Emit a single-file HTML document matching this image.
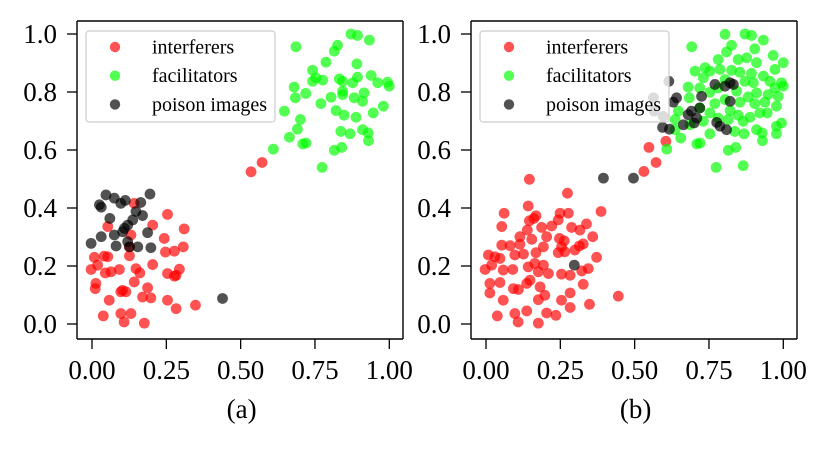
<!DOCTYPE html>
<html><head><meta charset="utf-8"><style>
html,body{margin:0;padding:0;background:#fff}
svg text{font-family:"Liberation Serif",serif;fill:#000}
</style></head><body>
<svg id="fig" width="829" height="444" xmlns="http://www.w3.org/2000/svg"></svg>
<script>
const xTicks=[0,0.25,0.5,0.75,1.0];
const xTickLabels=["0.00","0.25","0.50","0.75","1.00"];
const yTicks=[0,0.2,0.4,0.6,0.8,1.0];
const yTickLabels=["0.0","0.2","0.4","0.6","0.8","1.0"];
const seriesNames=["interferers","facilitators","poison images"];
const panelLabels=["(a)","(b)"];

const aRedX=[0.572,0.535,0.254,0.310,0.142,0.204,0.053,0.243,0.307,0.277,0.247,0.126,0.008,0.041,0.053,-0.003,0.019,0.064,0.092,0.045,0.204,0.148,0.161,0.254,0.283,0.294,0.277,0.013,0.011,0.142,0.103,0.114,0.097,0.187,0.170,0.198,0.058,0.254,0.283,0.348,0.038,0.097,0.131,0.108,0.176,0.131,0.126];
const aRedY=[0.557,0.525,0.378,0.328,0.416,0.341,0.336,0.295,0.266,0.251,0.248,0.235,0.230,0.234,0.232,0.188,0.203,0.180,0.188,0.176,0.205,0.191,0.176,0.174,0.168,0.189,0.165,0.140,0.122,0.145,0.116,0.111,0.111,0.125,0.093,0.090,0.082,0.082,0.053,0.065,0.028,0.036,0.036,0.007,0.003,0.307,0.266];
const aGreenX=[0.686,0.871,0.893,0.933,0.826,0.815,0.787,0.891,0.742,0.742,0.776,0.753,0.832,0.843,0.893,0.877,0.939,0.961,0.994,1.0,0.680,0.719,0.684,0.843,0.843,0.882,0.915,0.910,0.770,0.804,0.980,0.946,0.647,0.821,0.848,0.888,0.701,0.691,0.664,0.837,0.868,0.910,0.929,0.930,0.709,0.720,0.610,0.840,0.815,0.774];
const aGreenY=[0.956,1.0,0.995,0.979,0.961,0.941,0.903,0.897,0.875,0.837,0.841,0.849,0.845,0.837,0.851,0.832,0.857,0.832,0.834,0.820,0.817,0.795,0.780,0.803,0.791,0.780,0.797,0.768,0.760,0.782,0.751,0.728,0.734,0.736,0.720,0.713,0.705,0.672,0.644,0.664,0.656,0.670,0.659,0.632,0.621,0.624,0.603,0.609,0.599,0.540];
const aBlackX=[0.195,0.047,0.075,0.112,0.097,0.164,0.025,0.031,0.148,0.170,0.060,0.137,0.120,0.109,0.103,0.187,0.075,0.031,-0.003,0.081,0.120,0.126,0.154,0.198,0.439];
const aBlackY=[0.448,0.445,0.434,0.426,0.416,0.419,0.411,0.403,0.388,0.374,0.364,0.359,0.341,0.330,0.318,0.315,0.307,0.301,0.278,0.269,0.284,0.266,0.266,0.263,0.088];

const bRedX=[0.146,0.274,0.061,0.142,0.168,0.161,0.249,0.277,0.387,0.053,0.146,0.187,0.221,0.243,0.288,0.316,0.338,0.114,0.139,0.154,0.204,0.247,0.263,0.359,0.053,0.081,0.114,0.193,0.254,0.314,0.327,0.299,0.008,0.030,0.047,0.097,0.126,0.168,0.243,0.265,-0.003,0.019,0.058,0.090,0.142,0.164,0.193,0.210,0.176,0.254,0.283,0.322,0.344,0.372,0.013,0.047,0.092,0.109,0.137,0.148,0.182,0.198,0.283,0.327,0.254,0.348,0.445,0.013,0.058,0.176,0.283,0.038,0.097,0.137,0.108,0.176,0.204,0.235,0.548,0.605,0.572,0.531];
const bRedY=[0.499,0.451,0.382,0.407,0.373,0.364,0.382,0.382,0.388,0.336,0.356,0.333,0.338,0.359,0.333,0.324,0.345,0.301,0.324,0.292,0.301,0.295,0.287,0.301,0.272,0.270,0.275,0.266,0.266,0.269,0.276,0.255,0.238,0.232,0.226,0.238,0.241,0.246,0.246,0.249,0.188,0.203,0.186,0.188,0.197,0.209,0.203,0.174,0.180,0.172,0.168,0.183,0.191,0.230,0.140,0.143,0.122,0.119,0.140,0.151,0.128,0.099,0.107,0.137,0.082,0.068,0.096,0.107,0.082,0.084,0.057,0.028,0.036,0.045,0.007,0.003,0.038,0.030,0.609,0.630,0.557,0.526];
const bGreenX=[0.804,0.871,0.893,0.933,0.692,0.826,0.809,0.904,0.781,0.848,0.877,0.966,1.0,0.910,0.703,0.737,0.753,0.787,0.826,0.854,0.893,0.933,0.972,0.955,0.731,0.804,0.871,0.899,0.994,1.0,0.972,0.680,0.719,0.753,0.781,0.843,0.882,0.910,0.949,0.983,0.684,0.770,0.804,0.854,0.904,0.938,0.977,0.647,0.719,0.753,0.821,0.848,0.888,0.946,0.921,0.636,0.731,0.781,0.815,0.865,0.994,0.977,0.655,0.709,0.720,0.753,0.837,0.868,0.910,0.929,0.930,0.977,0.608,0.840,0.815,0.774,0.865,0.636,0.686];
const bGreenY=[0.999,1.0,0.995,0.979,0.956,0.961,0.938,0.949,0.912,0.912,0.918,0.926,0.901,0.901,0.872,0.884,0.872,0.878,0.875,0.868,0.864,0.855,0.878,0.837,0.849,0.843,0.837,0.832,0.832,0.820,0.814,0.817,0.814,0.799,0.814,0.803,0.783,0.797,0.791,0.785,0.780,0.760,0.774,0.765,0.760,0.765,0.751,0.734,0.745,0.728,0.736,0.720,0.713,0.728,0.728,0.705,0.699,0.710,0.705,0.699,0.693,0.682,0.641,0.621,0.624,0.656,0.664,0.656,0.670,0.659,0.632,0.656,0.603,0.609,0.599,0.540,0.546,0.670,0.687];
const bBlackX=[0.615,0.563,0.566,0.596,0.641,0.630,0.594,0.617,0.664,0.680,0.691,0.709,0.700,0.719,0.725,0.770,0.804,0.821,0.832,0.821,0.776,0.787,0.809,0.395,0.496,0.297];
const bBlackY=[0.837,0.780,0.734,0.716,0.780,0.765,0.678,0.672,0.687,0.722,0.734,0.710,0.693,0.745,0.785,0.826,0.820,0.832,0.826,0.768,0.695,0.682,0.670,0.503,0.503,0.203];

const NS="http://www.w3.org/2000/svg";
const svg=document.getElementById('fig');
function mk(tag,attrs,parent){const e=document.createElementNS(NS,tag);for(const k in attrs)e.setAttribute(k,attrs[k]);(parent||svg).appendChild(e);return e;}

const panels=[
 {left:77,right:403,x0:92,x1:389.3,red:[aRedX,aRedY],green:[aGreenX,aGreenY],black:[aBlackX,aBlackY],id:'a'},
 {left:471,right:797,x0:486,x1:783.3,red:[bRedX,bRedY],green:[bGreenX,bGreenY],black:[bBlackX,bBlackY],id:'b'}
];
const frameTop=21,frameBottom=339,yZero=324,yOne=34;
const colors=["#ff0000","#00ff00","#000000"];

panels.forEach((p,pi)=>{
  const g=mk('g',{});
  
  
  const sx=v=>p.x0+v*(p.x1-p.x0);
  const sy=v=>yZero-v*(yZero-yOne);
  const sets=[p.red,p.green,p.black];
  sets.forEach((s,si)=>{
    const sg=mk('g',{},g);
    
    
    s[0].forEach((xv,i)=>{
      const c=mk('circle',{cx:sx(xv),cy:sy(s[1][i]),r:5.4,fill:colors[si],'fill-opacity':0.68},sg);
      
      
    });
  });
  const fg=mk('g',{stroke:'#000','stroke-width':1.4},g);
  
  
  mk('line',{x1:p.left,x2:p.right,y1:frameTop,y2:frameTop},fg);
  mk('line',{x1:p.left,x2:p.right,y1:frameBottom,y2:frameBottom},fg);
  mk('line',{x1:p.left,x2:p.left,y1:frameTop,y2:frameBottom},fg);
  mk('line',{x1:p.right,x2:p.right,y1:frameTop,y2:frameBottom},fg);
  xTicks.forEach((t,i)=>{
    const x=sx(t);
    mk('line',{x1:x,x2:x,y1:frameBottom,y2:frameBottom+10,stroke:'#000','stroke-width':1.3},g);
    const tx=mk('text',{x:x,y:379,'font-size':27,'text-anchor':'middle'},g);
    tx.textContent=xTickLabels[i];
    
    
  });
  yTicks.forEach((t,i)=>{
    const y=sy(t);
    mk('line',{x1:p.left-10,x2:p.left,y1:y,y2:y,stroke:'#000','stroke-width':1.3},g);
    const tx=mk('text',{x:p.left-20,y:y+9,'font-size':27,'text-anchor':'end'},g);
    tx.textContent=yTickLabels[i];
    
    
  });
  const lg=mk('g',{},g);
  
  
  mk('rect',{x:p.left+9,y:31,width:189,height:91,rx:3,fill:'#fff','fill-opacity':0.8,stroke:'#ccc','stroke-width':1.2},lg);
  seriesNames.forEach((n,i)=>{
    const ly=47+i*28.7;
    mk('circle',{cx:p.left+38,cy:ly,r:5.2,fill:colors[i],'fill-opacity':0.68},lg);
    const tx=mk('text',{x:p.left+75,y:ly+6.5,'font-size':20},lg);
    tx.textContent=n;
    
    
  });
  const pl=mk('text',{x:(p.x0+p.x1)/2+1,y:418,'font-size':27,'text-anchor':'middle'},g);
  pl.textContent=panelLabels[pi];
  
  
});
</script>
</body></html>
